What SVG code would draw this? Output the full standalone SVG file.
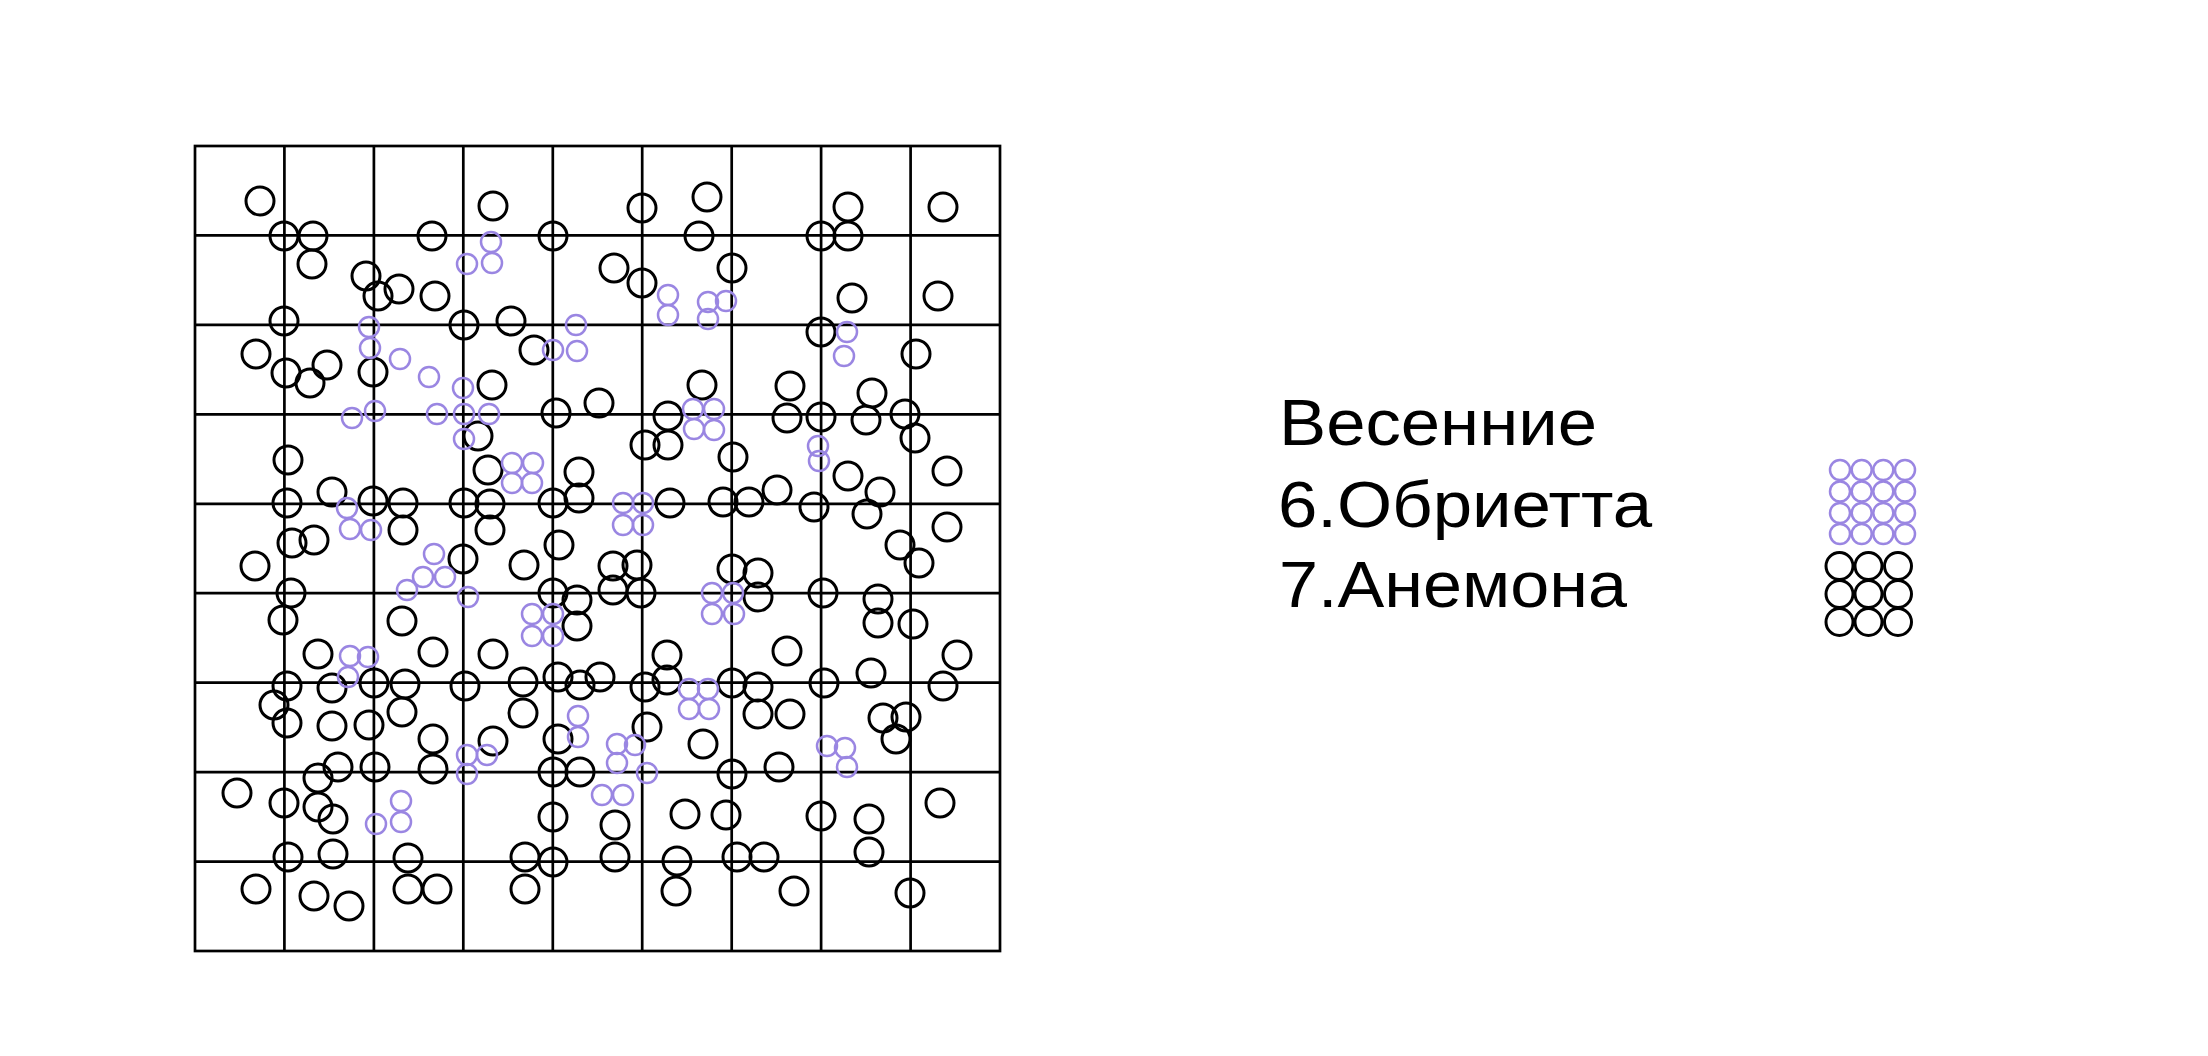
<svg xmlns="http://www.w3.org/2000/svg" width="2208" height="1056" viewBox="0 0 2208 1056">
<style>
.g{fill:none;stroke:#000;stroke-width:2.7}
.b{fill:none;stroke:#000;stroke-width:3}
.p{fill:none;stroke:#9a86e2;stroke-width:2.5}
.t{font-family:"Liberation Sans",Arial,sans-serif;font-size:64px;fill:#000}
</style>
<rect width="2208" height="1056" fill="#fff"/>
<g id="grid" class="g">
<rect x="195" y="146" width="805" height="805"/>
<path d="M284.4 146V951M373.9 146V951M463.3 146V951M552.8 146V951M642.2 146V951M731.7 146V951M821.1 146V951M910.6 146V951"/>
<path d="M195 235.4H1000M195 324.9H1000M195 414.3H1000M195 503.8H1000M195 593.2H1000M195 682.7H1000M195 772.1H1000M195 861.6H1000"/>
</g>
<g id="anemone" class="b">
<circle cx="260" cy="201" r="14"/><circle cx="284" cy="236" r="14"/><circle cx="313" cy="236" r="14"/><circle cx="312" cy="264" r="14"/><circle cx="366" cy="276" r="14"/><circle cx="378" cy="296" r="14"/><circle cx="399" cy="289" r="14"/><circle cx="432" cy="236" r="14"/><circle cx="493" cy="206" r="14"/><circle cx="553" cy="236" r="14"/><circle cx="435" cy="296" r="14"/><circle cx="284" cy="321" r="14"/><circle cx="256" cy="354" r="14"/><circle cx="286" cy="373" r="14"/><circle cx="310" cy="383" r="14"/><circle cx="327" cy="365" r="14"/><circle cx="373" cy="372" r="14"/><circle cx="464" cy="325" r="14"/><circle cx="511" cy="321" r="14"/><circle cx="534" cy="350" r="14"/><circle cx="492" cy="385" r="14"/><circle cx="556" cy="413" r="14"/><circle cx="599" cy="403" r="14"/><circle cx="478" cy="436" r="14"/><circle cx="288" cy="460" r="14"/><circle cx="488" cy="470" r="14"/><circle cx="579" cy="472" r="14"/><circle cx="287" cy="503" r="14"/><circle cx="332" cy="492" r="14"/><circle cx="373" cy="501" r="14"/><circle cx="403" cy="503" r="14"/><circle cx="464" cy="503" r="14"/><circle cx="490" cy="504" r="14"/><circle cx="553" cy="503" r="14"/><circle cx="579" cy="498" r="14"/><circle cx="292" cy="543" r="14"/><circle cx="314" cy="540" r="14"/><circle cx="403" cy="530" r="14"/><circle cx="490" cy="530" r="14"/><circle cx="559" cy="545" r="14"/><circle cx="255" cy="566" r="14"/><circle cx="463" cy="559" r="14"/><circle cx="524" cy="565" r="14"/>
<circle cx="642" cy="208" r="14"/><circle cx="707" cy="197" r="14"/><circle cx="699" cy="236" r="14"/><circle cx="614" cy="268" r="14"/><circle cx="642" cy="283" r="14"/><circle cx="732" cy="268" r="14"/><circle cx="848" cy="207" r="14"/><circle cx="821" cy="236" r="14"/><circle cx="848" cy="236" r="14"/><circle cx="943" cy="207" r="14"/><circle cx="852" cy="298" r="14"/><circle cx="938" cy="296" r="14"/><circle cx="821" cy="332" r="14"/><circle cx="916" cy="354" r="14"/><circle cx="702" cy="385" r="14"/><circle cx="790" cy="386" r="14"/><circle cx="872" cy="393" r="14"/><circle cx="668" cy="416" r="14"/><circle cx="787" cy="418" r="14"/><circle cx="821" cy="417" r="14"/><circle cx="866" cy="420" r="14"/><circle cx="905" cy="414" r="14"/><circle cx="915" cy="438" r="14"/><circle cx="645" cy="445" r="14"/><circle cx="668" cy="445" r="14"/><circle cx="733" cy="457" r="14"/><circle cx="947" cy="471" r="14"/><circle cx="848" cy="476" r="14"/><circle cx="880" cy="492" r="14"/><circle cx="670" cy="503" r="14"/><circle cx="723" cy="502" r="14"/><circle cx="749" cy="502" r="14"/><circle cx="777" cy="490" r="14"/><circle cx="814" cy="507" r="14"/><circle cx="867" cy="514" r="14"/><circle cx="947" cy="527" r="14"/><circle cx="900" cy="545" r="14"/><circle cx="919" cy="563" r="14"/>
<circle cx="613" cy="566" r="14"/><circle cx="637" cy="565" r="14"/><circle cx="732" cy="569" r="14"/><circle cx="758" cy="573" r="14"/><circle cx="291" cy="593" r="14"/><circle cx="283" cy="620" r="14"/><circle cx="402" cy="621" r="14"/><circle cx="553" cy="593" r="14"/><circle cx="577" cy="600" r="14"/><circle cx="577" cy="626" r="14"/><circle cx="613" cy="590" r="14"/><circle cx="641" cy="593" r="14"/><circle cx="758" cy="597" r="14"/><circle cx="823" cy="593" r="14"/><circle cx="878" cy="599" r="14"/><circle cx="878" cy="623" r="14"/><circle cx="913" cy="624" r="14"/><circle cx="957" cy="655" r="14"/><circle cx="787" cy="651" r="14"/><circle cx="667" cy="655" r="14"/><circle cx="667" cy="680" r="14"/><circle cx="600" cy="677" r="14"/><circle cx="645" cy="687" r="14"/><circle cx="732" cy="683" r="14"/><circle cx="758" cy="687" r="14"/><circle cx="824" cy="683" r="14"/><circle cx="871" cy="673" r="14"/><circle cx="943" cy="686" r="14"/>
<circle cx="318" cy="654" r="14"/><circle cx="433" cy="652" r="14"/><circle cx="493" cy="654" r="14"/><circle cx="287" cy="686" r="14"/><circle cx="274" cy="705" r="14"/><circle cx="332" cy="688" r="14"/><circle cx="374" cy="683" r="14"/><circle cx="405" cy="684" r="14"/><circle cx="465" cy="686" r="14"/><circle cx="523" cy="682" r="14"/><circle cx="558" cy="677" r="14"/><circle cx="580" cy="685" r="14"/><circle cx="287" cy="723" r="14"/><circle cx="332" cy="726" r="14"/><circle cx="369" cy="725" r="14"/><circle cx="402" cy="712" r="14"/><circle cx="523" cy="713" r="14"/><circle cx="433" cy="739" r="14"/><circle cx="493" cy="741" r="14"/><circle cx="558" cy="739" r="14"/><circle cx="647" cy="727" r="14"/><circle cx="758" cy="714" r="14"/><circle cx="790" cy="714" r="14"/><circle cx="883" cy="718" r="14"/><circle cx="906" cy="717" r="14"/><circle cx="896" cy="739" r="14"/><circle cx="703" cy="744" r="14"/>
<circle cx="338" cy="767" r="14"/><circle cx="375" cy="767" r="14"/><circle cx="433" cy="769" r="14"/><circle cx="553" cy="772" r="14"/><circle cx="580" cy="772" r="14"/><circle cx="318" cy="778" r="14"/><circle cx="237" cy="793" r="14"/><circle cx="284" cy="803" r="14"/><circle cx="318" cy="807" r="14"/><circle cx="333" cy="819" r="14"/><circle cx="553" cy="817" r="14"/><circle cx="779" cy="767" r="14"/><circle cx="732" cy="774" r="14"/><circle cx="615" cy="825" r="14"/><circle cx="685" cy="814" r="14"/><circle cx="726" cy="815" r="14"/><circle cx="821" cy="816" r="14"/><circle cx="869" cy="819" r="14"/><circle cx="940" cy="803" r="14"/>
<circle cx="288" cy="857" r="14"/><circle cx="333" cy="854" r="14"/><circle cx="408" cy="858" r="14"/><circle cx="525" cy="857" r="14"/><circle cx="553" cy="862" r="14"/><circle cx="615" cy="857" r="14"/><circle cx="677" cy="861" r="14"/><circle cx="737" cy="857" r="14"/><circle cx="764" cy="857" r="14"/><circle cx="869" cy="852" r="14"/><circle cx="256" cy="889" r="14"/><circle cx="314" cy="896" r="14"/><circle cx="349" cy="906" r="14"/><circle cx="408" cy="889" r="14"/><circle cx="437" cy="889" r="14"/><circle cx="525" cy="889" r="14"/><circle cx="676" cy="891" r="14"/><circle cx="794" cy="891" r="14"/><circle cx="910" cy="893" r="14"/>
</g>
<g id="aubrieta" class="p">
<circle cx="491" cy="242" r="10"/><circle cx="467" cy="264" r="10"/><circle cx="492" cy="263" r="10"/><circle cx="369" cy="327" r="10"/><circle cx="370" cy="348" r="10"/><circle cx="400" cy="359" r="10"/><circle cx="429" cy="377" r="10"/><circle cx="463" cy="388" r="10"/><circle cx="352" cy="418" r="10"/><circle cx="375" cy="411" r="10"/><circle cx="437" cy="414" r="10"/><circle cx="464" cy="414" r="10"/><circle cx="489" cy="414" r="10"/><circle cx="464" cy="439" r="10"/><circle cx="576" cy="325" r="10"/><circle cx="553" cy="350" r="10"/><circle cx="577" cy="351" r="10"/><circle cx="512" cy="463" r="10"/><circle cx="533" cy="463" r="10"/><circle cx="512" cy="483" r="10"/><circle cx="532" cy="483" r="10"/><circle cx="347" cy="508" r="10"/><circle cx="350" cy="529" r="10"/><circle cx="371" cy="530" r="10"/><circle cx="434" cy="554" r="10"/>
<circle cx="668" cy="295" r="10"/><circle cx="668" cy="315" r="10"/><circle cx="708" cy="302" r="10"/><circle cx="726" cy="301" r="10"/><circle cx="708" cy="319" r="10"/><circle cx="847" cy="332" r="10"/><circle cx="844" cy="356" r="10"/><circle cx="693" cy="409" r="10"/><circle cx="714" cy="409" r="10"/><circle cx="694" cy="429" r="10"/><circle cx="714" cy="430" r="10"/><circle cx="818" cy="446" r="10"/><circle cx="819" cy="461" r="10"/><circle cx="623" cy="503" r="10"/><circle cx="643" cy="503" r="10"/><circle cx="623" cy="525" r="10"/><circle cx="643" cy="525" r="10"/>
<circle cx="423" cy="577" r="10"/><circle cx="445" cy="577" r="10"/><circle cx="407" cy="590" r="10"/><circle cx="468" cy="597" r="10"/><circle cx="532" cy="614" r="10"/><circle cx="553" cy="614" r="10"/><circle cx="532" cy="636" r="10"/><circle cx="553" cy="636" r="10"/><circle cx="350" cy="656" r="10"/><circle cx="368" cy="657" r="10"/><circle cx="348" cy="677" r="10"/><circle cx="578" cy="716" r="10"/><circle cx="578" cy="737" r="10"/><circle cx="467" cy="755" r="10"/><circle cx="487" cy="755" r="10"/><circle cx="467" cy="774" r="10"/><circle cx="602" cy="795" r="10"/><circle cx="623" cy="795" r="10"/><circle cx="401" cy="801" r="10"/><circle cx="401" cy="822" r="10"/><circle cx="376" cy="824" r="10"/>
<circle cx="712" cy="593" r="10"/><circle cx="733" cy="593" r="10"/><circle cx="712" cy="614" r="10"/><circle cx="734" cy="614" r="10"/><circle cx="689" cy="689" r="10"/><circle cx="708" cy="689" r="10"/><circle cx="689" cy="709" r="10"/><circle cx="709" cy="709" r="10"/><circle cx="617" cy="744" r="10"/><circle cx="635" cy="745" r="10"/><circle cx="617" cy="763" r="10"/><circle cx="647" cy="773" r="10"/><circle cx="827" cy="746" r="10"/><circle cx="845" cy="748" r="10"/><circle cx="847" cy="767" r="10"/>
</g>
<g id="legend-text" class="t">
<text x="1279" y="445" textLength="318" lengthAdjust="spacingAndGlyphs">Весенние</text>
<text x="1278" y="527" textLength="374" lengthAdjust="spacingAndGlyphs">6.Обриетта</text>
<text x="1279" y="607" textLength="348" lengthAdjust="spacingAndGlyphs">7.Анемона</text>
</g>
<g id="legend-aubrieta" class="p">
<circle cx="1840" cy="470" r="10"/><circle cx="1861.7" cy="470" r="10"/><circle cx="1883.3" cy="470" r="10"/><circle cx="1905" cy="470" r="10"/>
<circle cx="1840" cy="491.5" r="10"/><circle cx="1861.7" cy="491.5" r="10"/><circle cx="1883.3" cy="491.5" r="10"/><circle cx="1905" cy="491.5" r="10"/>
<circle cx="1840" cy="513" r="10"/><circle cx="1861.7" cy="513" r="10"/><circle cx="1883.3" cy="513" r="10"/><circle cx="1905" cy="513" r="10"/>
<circle cx="1840" cy="534" r="10"/><circle cx="1861.7" cy="534" r="10"/><circle cx="1883.3" cy="534" r="10"/><circle cx="1905" cy="534" r="10"/>
</g>
<g id="legend-anemone" class="b">
<circle cx="1839.5" cy="566" r="13.5"/><circle cx="1868.5" cy="566" r="13.5"/><circle cx="1898" cy="566" r="13.5"/>
<circle cx="1839.5" cy="594" r="13.5"/><circle cx="1868.5" cy="594" r="13.5"/><circle cx="1898" cy="594" r="13.5"/>
<circle cx="1839.5" cy="622" r="13.5"/><circle cx="1868.5" cy="622" r="13.5"/><circle cx="1898" cy="622" r="13.5"/>
</g>
</svg>
